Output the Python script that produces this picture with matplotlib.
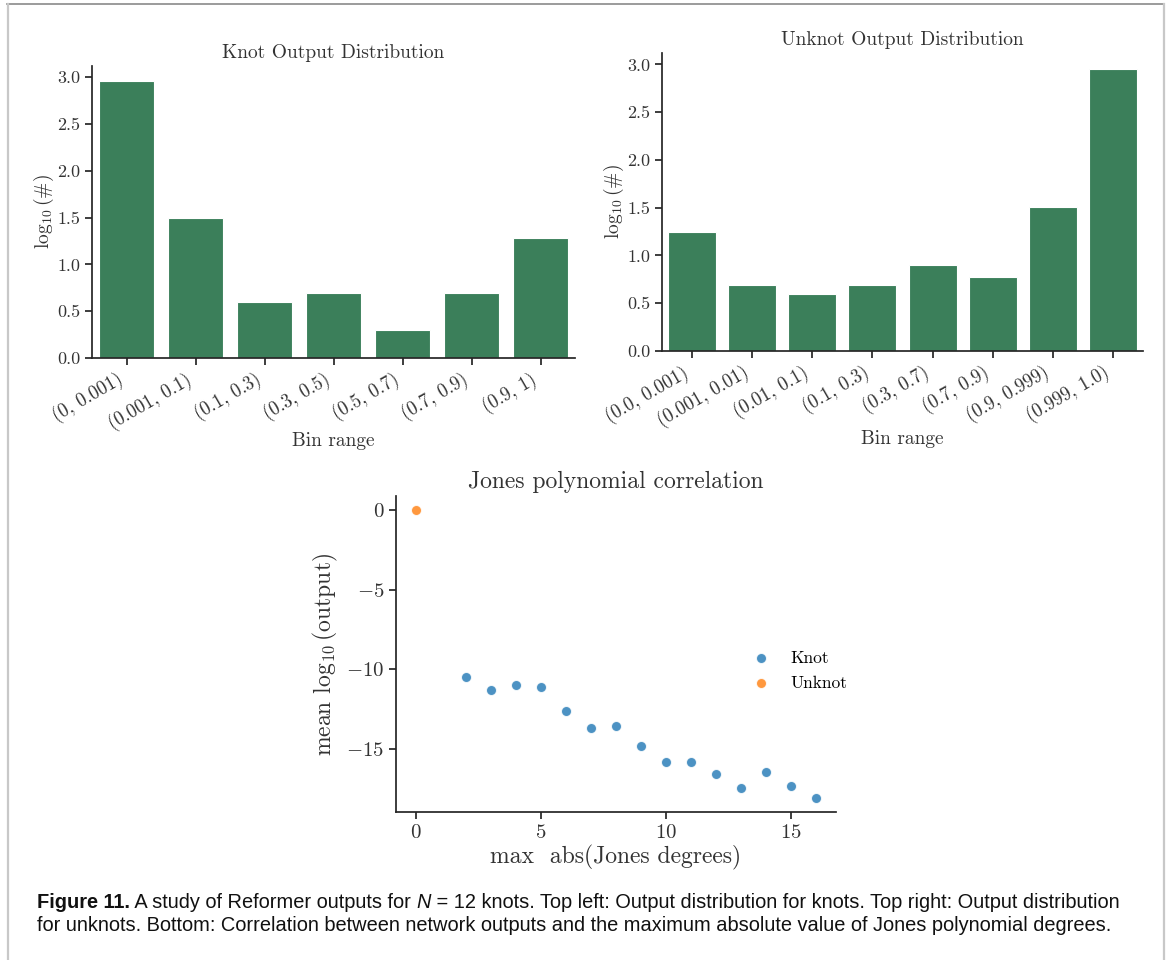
import matplotlib
matplotlib.use("Agg")
import matplotlib.pyplot as plt
import numpy as np

plt.rcParams["font.family"] = "cmr10"
plt.rcParams["mathtext.fontset"] = "cm"
plt.rcParams["axes.formatter.use_mathtext"] = True
plt.rcParams["axes.unicode_minus"] = False

# log10 of the counts per output bin
knot_bins = ["(0, 0.001)", "(0.001, 0.1)", "(0.1, 0.3)", "(0.3, 0.5)",
             "(0.5, 0.7)", "(0.7, 0.9)", "(0.9, 1)"]
knot_log_counts = [2.964, 1.491, 0.602, 0.699, 0.301, 0.699, 1.279]

unknot_bins = ["(0.0, 0.001)", "(0.001, 0.01)", "(0.01, 0.1)", "(0.1, 0.3)",
               "(0.3, 0.7)", "(0.7, 0.9)", "(0.9, 0.999)", "(0.999, 1.0)"]
unknot_log_counts = [1.243, 0.690, 0.595, 0.690, 0.897, 0.773, 1.505, 2.952]

# mean log10(output) against max abs Jones degree
knot_degree = [2, 3, 4, 5, 6, 7, 8, 9, 10, 11, 12, 13, 14, 15, 16]
knot_mean_out = [-10.50, -11.33, -11.01, -11.14, -12.61, -13.68, -13.60,
                 -14.82, -15.85, -15.81, -16.57, -17.45, -16.48, -17.33, -18.08]
unknot_degree = [0]
unknot_mean_out = [0.0]

bar_color = "#3b7f5a"
spine_color = "#262626"
text_color = "#333333"

W, H = 1170, 960
fig = plt.figure(figsize=(W / 100, H / 100), dpi=100)


def px_axes(left, top, right, bottom):
    return fig.add_axes([left / W, 1 - bottom / H, (right - left) / W, (bottom - top) / H])


def style_axes(ax, size):
    for s in ["top", "right"]:
        ax.spines[s].set_visible(False)
    for s in ["left", "bottom"]:
        ax.spines[s].set_color(spine_color)
        ax.spines[s].set_linewidth(1.25)
    ax.tick_params(axis="both", direction="out", length=5, width=1.25,
                   color=spine_color, labelcolor=text_color, labelsize=size)


def bar_panel(ax, bins, vals, title):
    x = np.arange(len(bins))
    ax.bar(x, vals, width=0.8, color=bar_color, edgecolor="white", linewidth=0.8)
    ax.set_xlim(-0.5, len(bins) - 0.5)
    ax.set_ylim(0, 3.12)
    ax.set_yticks([0, 0.5, 1.0, 1.5, 2.0, 2.5, 3.0])
    ax.set_yticklabels(["0.0", "0.5", "1.0", "1.5", "2.0", "2.5", "3.0"])
    ax.set_xticks(x)
    ax.set_xticklabels(bins, rotation=30, ha="right")
    style_axes(ax, 13.5)
    ax.tick_params(axis="y", labelsize=13)
    ax.set_xlabel("Bin range", fontsize=14, color=text_color, labelpad=-1)
    ax.set_ylabel(r"$\log_{10}(\#)$", fontsize=14, color=text_color, labelpad=1)
    ax.set_title(title, fontsize=14, color=text_color, pad=6)


ax_k = px_axes(92, 66, 575, 358)
bar_panel(ax_k, knot_bins, knot_log_counts, "Knot Output Distribution")

ax_u = px_axes(662, 53, 1143, 351)
bar_panel(ax_u, unknot_bins, unknot_log_counts, "Unknot Output Distribution")

############# Jones polynomial scatter ########################
ax_s = px_axes(396, 496, 836, 812)
ax_s.scatter(knot_degree, knot_mean_out, s=52, color="#1f77b4", alpha=0.8,
             edgecolor="white", linewidth=0.75, label="Knot")
ax_s.scatter(unknot_degree, unknot_mean_out, s=52, color="#ff7f0e", alpha=0.8,
             edgecolor="white", linewidth=0.75, label="Unknot")
ax_s.set_xticks([0, 5, 10, 15])
ax_s.set_yticks([0, -5, -10, -15])
style_axes(ax_s, 15)
ax_s.set_xlabel("max  abs(Jones degrees)", fontsize=17, color=text_color, labelpad=2)
ax_s.set_ylabel(r"mean $\log_{10}$(output)", fontsize=17, color=text_color, labelpad=4)
ax_s.set_title("Jones polynomial correlation", fontsize=17, color=text_color, pad=6)
ax_s.legend(loc="center left", bbox_to_anchor=(0.755, 0.447), frameon=False,
            fontsize=12.5, handletextpad=0.7, labelspacing=0.55)

############# caption ########################################
cap_font = ["Liberation Sans", "DejaVu Sans"]
renderer = fig.canvas.get_renderer()

line1 = [("Figure 11.", {"fontweight": "bold"}),
         (" A study of Reformer outputs for ", {}),
         ("N", {"style": "italic"}),
         (" = 12 knots. Top left: Output distribution for knots. Top right: Output distribution", {})]
line2 = [("for unknots. Bottom: Correlation between network outputs and the maximum absolute value of Jones polynomial degrees.", {})]


def write_line(pieces, x0, y0, size):
    x = x0
    for txt, kw in pieces:
        t = fig.text(x / W, 1 - y0 / H, txt, fontsize=size, family=cap_font,
                     va="baseline", ha="left", color="#111111", **kw)
        x += t.get_window_extent(renderer).width
    return x - x0


# size the caption so the first line runs across the frame
probe = write_line(line1, 37, -100, 10)
for t in fig.texts[:]:
    t.remove()
cap_size = 10 * 1091 / probe
write_line(line1, 37, 908, cap_size)
write_line(line2, 37, 931, cap_size)

# page frame
fig.add_artist(plt.Line2D([7 / W, 1163 / W], [1 - 4 / H, 1 - 4 / H], color="#8a8a8a", lw=1.2))
fig.add_artist(plt.Line2D([7.5 / W, 7.5 / W], [0, 1 - 4 / H], color="#c8c8c8", lw=1.6))
fig.add_artist(plt.Line2D([1163.5 / W, 1163.5 / W], [0, 1 - 4 / H], color="#c8c8c8", lw=1.6))

fig.savefig("out.png", dpi=100)
